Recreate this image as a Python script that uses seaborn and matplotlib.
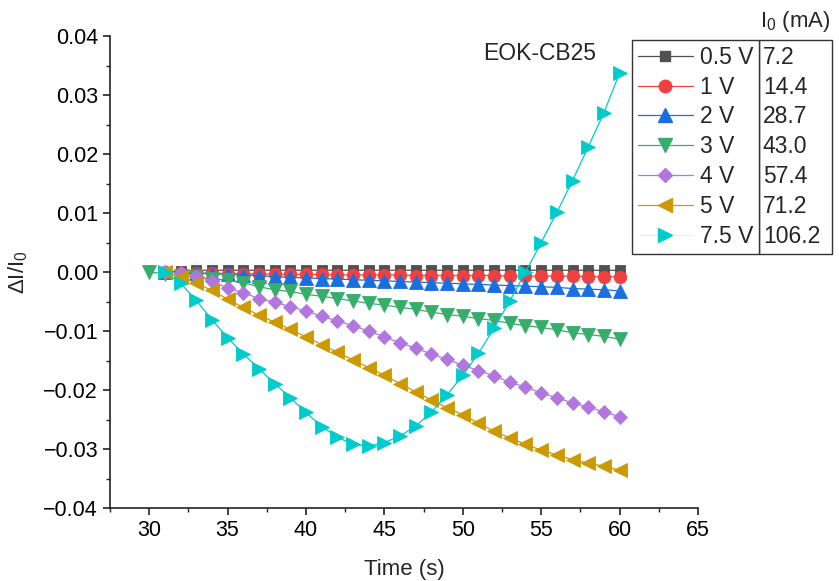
import matplotlib
matplotlib.use("Agg")
import matplotlib.pyplot as plt
import seaborn as sns
import pandas as pd
from matplotlib.lines import Line2D
from matplotlib.patches import Rectangle
from matplotlib.ticker import MultipleLocator, FuncFormatter

# ---------------- data ----------------
time_31_60 = [31, 32, 33, 34, 35, 36, 37, 38, 39, 40, 41, 42, 43, 44, 45,
              46, 47, 48, 49, 50, 51, 52, 53, 54, 55, 56, 57, 58, 59, 60]
time_30_60 = [30, 31, 32, 33, 34, 35, 36, 37, 38, 39, 40, 41, 42, 43, 44, 45,
              46, 47, 48, 49, 50, 51, 52, 53, 54, 55, 56, 57, 58, 59, 60]

v_0p5 = [0.0000, 0.0002, 0.0003, 0.0003, 0.0003, 0.0003, 0.0003, 0.0003, 0.0003, 0.0003,
         0.0003, 0.0003, 0.0003, 0.0003, 0.0003, 0.0003, 0.0003, 0.0003, 0.0003, 0.0003,
         0.0003, 0.0003, 0.0003, 0.0003, 0.0003, 0.0003, 0.0003, 0.0003, 0.0003, 0.0003]
v_1 = [0.0000, -0.0001, -0.0002, -0.0002, -0.0003, -0.0003, -0.0003, -0.0004, -0.0004, -0.0004,
       -0.0004, -0.0005, -0.0005, -0.0005, -0.0005, -0.0005, -0.0006, -0.0006, -0.0006, -0.0006,
       -0.0006, -0.0006, -0.0007, -0.0007, -0.0007, -0.0007, -0.0007, -0.0008, -0.0008, -0.0008]
v_2 = [0.0000, -0.0001, -0.0002, -0.0003, -0.0004, -0.0005, -0.0006, -0.0008, -0.0009, -0.0010,
       -0.0011, -0.0012, -0.0013, -0.0014, -0.0015, -0.0016, -0.0017, -0.0018, -0.0019, -0.0020,
       -0.0021, -0.0022, -0.0023, -0.0024, -0.0025, -0.0026, -0.0028, -0.0029, -0.0030, -0.0032]
v_3 = [0.0000, -0.0003, -0.0006, -0.0009, -0.0011, -0.0014, -0.0018, -0.0025, -0.0030, -0.0033,
       -0.0038, -0.0041, -0.0045, -0.0049, -0.0053, -0.0056, -0.0060, -0.0063, -0.0068, -0.0072,
       -0.0075, -0.0079, -0.0082, -0.0087, -0.0091, -0.0094, -0.0098, -0.0103, -0.0106, -0.0109,
       -0.0114]
v_4 = [0.0000, -0.0002, -0.0006, -0.0016, -0.0027, -0.0035, -0.0045, -0.0051, -0.0059, -0.0066,
       -0.0075, -0.0083, -0.0091, -0.0100, -0.0110, -0.0120, -0.0129, -0.0139, -0.0148, -0.0158,
       -0.0167, -0.0176, -0.0187, -0.0195, -0.0205, -0.0213, -0.0222, -0.0229, -0.0237, -0.0245]
v_5 = [0.0000, -0.0008, -0.0019, -0.0031, -0.0046, -0.0060, -0.0073, -0.0085, -0.0097, -0.0110,
       -0.0123, -0.0136, -0.0149, -0.0162, -0.0175, -0.0189, -0.0203, -0.0217, -0.0230, -0.0242,
       -0.0256, -0.0270, -0.0281, -0.0292, -0.0302, -0.0310, -0.0318, -0.0324, -0.0329, -0.0336]
v_7p5 = [0.0000, -0.0019, -0.0048, -0.0081, -0.0111, -0.0139, -0.0164, -0.0189, -0.0213, -0.0238,
         -0.0262, -0.0280, -0.0292, -0.0295, -0.0289, -0.0278, -0.0261, -0.0237, -0.0208, -0.0175,
         -0.0138, -0.0095, -0.0049, 0.0000, 0.0050, 0.0101, 0.0155, 0.0212, 0.0270, 0.0337]

voltage_labels = ["0.5 V", "1 V", "2 V", "3 V", "4 V", "5 V", "7.5 V"]
i0_values = ["7.2", "14.4", "28.7", "43.0", "57.4", "71.2", "106.2"]
sample_name = "EOK-CB25"

# ---------------- style ----------------
sns.set_style("ticks")
plt.rcParams["font.family"] = ["Liberation Sans", "DejaVu Sans"]
plt.rcParams["mathtext.fontset"] = "custom"
plt.rcParams["mathtext.rm"] = "Liberation Sans"
plt.rcParams["mathtext.it"] = "Liberation Sans:italic"

colors = ["#515151", "#F14040", "#1A6FDF", "#37AD6B", "#B177DE", "#CC9900", "#00CBCC"]
markers = ["s", "o", "^", "v", "D", "<", ">"]
msizes = [7.5, 9, 10, 10, 7.2, 10, 10]

fig = plt.figure(figsize=(8.39, 5.81), dpi=100)
ax = fig.add_axes([0.1311, 0.1256, 0.7008, 0.8124])

series = [
    (time_31_60, v_0p5),
    (time_31_60, v_1),
    (time_31_60, v_2),
    (time_30_60, v_3),
    (time_31_60, v_4),
    (time_31_60, v_5),
    (time_31_60, v_7p5),
]

for (t, v), lab, c, m, ms in zip(series, voltage_labels, colors, markers, msizes):
    df = pd.DataFrame({"Time (s)": t, "dI": v})
    sns.lineplot(data=df, x="Time (s)", y="dI", ax=ax, color=c, marker=m,
                 markersize=ms, markeredgecolor=c, markeredgewidth=0.6,
                 linewidth=0.9, estimator=None, sort=False, legend=False)

ax.set_xlim(27.5, 65)
ax.set_ylim(-0.04, 0.04)
ax.xaxis.set_major_locator(MultipleLocator(5))
ax.xaxis.set_minor_locator(MultipleLocator(2.5))
ax.yaxis.set_major_locator(MultipleLocator(0.01))
ax.yaxis.set_minor_locator(MultipleLocator(0.005))


def yfmt(x, pos):
    s = f"{x:.2f}"
    if s == "-0.00":
        s = "0.00"
    return s.replace("-", "\u2212")


ax.yaxis.set_major_formatter(FuncFormatter(yfmt))
ax.tick_params(which="major", direction="out", length=5, width=1.2, labelsize=15.5,
               colors="#222222", labelcolor="black")
ax.tick_params(which="minor", direction="out", length=3, width=1.0, colors="#222222")
for side in ["top", "right"]:
    ax.spines[side].set_visible(False)
for side in ["left", "bottom"]:
    ax.spines[side].set_linewidth(1.2)
    ax.spines[side].set_color("#222222")

ax.set_xlabel("Time (s)", fontsize=16, labelpad=13)
ax.set_ylabel("\u0394I/I$_0$", fontsize=16, labelpad=10)

# legend
handles = []
for i, (c, m, ms) in enumerate(zip(colors, markers, msizes)):
    lc = c if i < 6 else "#eeeeee"
    handles.append(Line2D([0], [0], color=lc, linewidth=0.9, marker=m, markersize=ms,
                          markerfacecolor=c, markeredgecolor=c))
leg = fig.legend(handles, voltage_labels, loc="upper left",
                 bbox_to_anchor=(632 / 839, 1 - 40 / 581), borderaxespad=0,
                 fontsize=16.5, frameon=True, fancybox=False, shadow=False,
                 handlelength=2.4, handletextpad=0.3, labelspacing=0.3,
                 borderpad=0.25)
leg.get_frame().set_edgecolor("#333333")
leg.get_frame().set_linewidth(1.0)
leg.get_frame().set_alpha(1)

fig.canvas.draw()
renderer = fig.canvas.get_renderer()
W, H = fig.bbox.width, fig.bbox.height
fb = leg.get_frame().get_window_extent(renderer)
right_px = 832
fig.patches.append(Rectangle((fb.x1 / W, fb.y0 / H), (right_px - fb.x1) / W,
                             (fb.y1 - fb.y0) / H, transform=fig.transFigure,
                             fill=False, edgecolor="#333333", linewidth=1.0))
for txt, val in zip(leg.get_texts(), i0_values):
    bb = txt.get_window_extent(renderer)
    fig.text((fb.x1 + 4) / W, (bb.y0 + bb.y1) / 2 / H, val, ha="left", va="center",
             fontsize=16.5)

fig.text(795 / 839, 1 - 21 / 581, "I$_0$ (mA)", ha="center", va="center", fontsize=16)
fig.text(540 / 839, 1 - 54 / 581, sample_name, ha="center", va="center", fontsize=16.5)

fig.savefig("out.png", dpi=100)
